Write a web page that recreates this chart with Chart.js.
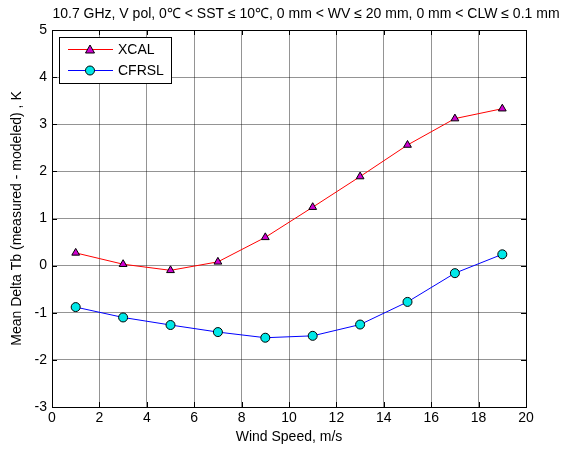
<!DOCTYPE html>
<html>
<head>
<meta charset="utf-8">
<script src="https://cdn.jsdelivr.net/npm/chart.js@4/dist/chart.umd.min.js"></script>
<style>
  html, body { margin: 0; padding: 0; background: #fff; }
  #wrap { width: 570px; height: 451px; }
</style>
</head>
<body>
<div id="wrap"><canvas id="chart" width="570" height="451"></canvas></div>
<script>
// ── DATA ──
const windSpeed = [1, 3, 5, 7, 9, 11, 13, 15, 17, 19];
const xcalVals  = [0.27, 0.03, -0.10, 0.08, 0.60, 1.24, 1.89, 2.56, 3.12, 3.33];
const cfrslVals = [-0.88, -1.10, -1.26, -1.41, -1.53, -1.49, -1.25, -0.77, -0.16, 0.24];
const seriesNames = ['XCAL', 'CFRSL'];
const titleText = '10.7 GHz, V pol, 0\u2103 < SST \u2264 10\u2103, 0 mm < WV \u2264 20 mm, 0 mm < CLW \u2264 0.1 mm';
const xLabel = 'Wind Speed, m/s';
const yLabel = 'Mean Delta Tb (measured - modeled) , K';

const FONT = "'Liberation Sans', Arial, Helvetica, sans-serif";
const GRID = 'rgba(0,0,0,0.42)';

// title drawn above the axes, centred like the MATLAB figure
const titlePlugin = {
    id: 'figTitle',
    afterDraw(chart) {
        const ctx = chart.ctx;
        ctx.save();
        ctx.font = '14px ' + FONT;
        ctx.fillStyle = '#000';
        ctx.textAlign = 'center';
        ctx.textBaseline = 'middle';
        ctx.fillText(titleText, 306, 14);
        ctx.restore();
    }
};

// axes box + inward ticks on all four sides
const boxPlugin = {
    id: 'axesBox',
    afterDatasetsDraw(chart) {
        const { ctx, chartArea: a, scales: { x, y } } = chart;
        ctx.save();
        ctx.strokeStyle = '#000';
        ctx.lineWidth = 1;
        ctx.strokeRect(a.left + 0.5, a.top + 0.5, a.right - a.left, a.bottom - a.top);
        ctx.beginPath();
        x.ticks.forEach(t => {
            const px = Math.round(x.getPixelForValue(t.value)) + 0.5;
            ctx.moveTo(px, a.bottom); ctx.lineTo(px, a.bottom - 5);
            ctx.moveTo(px, a.top); ctx.lineTo(px, a.top + 5);
        });
        y.ticks.forEach(t => {
            const py = Math.round(y.getPixelForValue(t.value)) + 0.5;
            ctx.moveTo(a.left, py); ctx.lineTo(a.left + 5, py);
            ctx.moveTo(a.right, py); ctx.lineTo(a.right - 5, py);
        });
        ctx.stroke();
        ctx.restore();
    },
    afterDraw(chart) {
        // legend box in the upper-left corner
        const ctx = chart.ctx;
        const bx = 59, by = 37, bw = 112, bh = 46;
        ctx.save();
        ctx.fillStyle = '#fff';
        ctx.fillRect(bx, by, bw, bh);
        ctx.strokeStyle = '#000';
        ctx.lineWidth = 1;
        ctx.strokeRect(bx + 0.5, by + 0.5, bw, bh);
        ctx.font = '14px ' + FONT;
        ctx.textBaseline = 'middle';
        chart.data.datasets.forEach((ds, i) => {
            const ly = by + 12.5 + i * 21;
            ctx.strokeStyle = ds.borderColor;
            ctx.beginPath();
            ctx.moveTo(68, ly); ctx.lineTo(113, ly);
            ctx.stroke();
            ctx.fillStyle = ds.pointBackgroundColor;
            ctx.strokeStyle = '#000';
            ctx.beginPath();
            if (ds.pointStyle === 'triangle') {
                ctx.moveTo(90, ly - 4.5); ctx.lineTo(94.5, ly + 3.5); ctx.lineTo(85.5, ly + 3.5); ctx.closePath();
            } else {
                ctx.arc(90, ly, 4.5, 0, Math.PI * 2);
            }
            ctx.fill(); ctx.stroke();
            ctx.fillStyle = '#000';
            ctx.fillText(ds.label, 118, ly + 1);
        });
        ctx.restore();
    }
};

new Chart(document.getElementById('chart').getContext('2d'), {
    type: 'line',
    data: {
        datasets: [
            {
                label: seriesNames[0],
                data: windSpeed.map((w, i) => ({ x: w, y: xcalVals[i] })),
                borderColor: '#ff0000',
                borderWidth: 1,
                pointStyle: 'triangle',
                pointRadius: 4.5,
                pointBackgroundColor: '#d000d0',
                pointBorderColor: '#000',
                pointBorderWidth: 1,
                tension: 0
            },
            {
                label: seriesNames[1],
                data: windSpeed.map((w, i) => ({ x: w, y: cfrslVals[i] })),
                borderColor: '#0000ff',
                borderWidth: 1,
                pointStyle: 'circle',
                pointRadius: 4.5,
                pointBackgroundColor: '#00e8e8',
                pointBorderColor: '#000',
                pointBorderWidth: 1,
                tension: 0
            }
        ]
    },
    options: {
        responsive: false,
        animation: false,
        events: [],
        layout: { padding: { top: 30, right: 44, left: 0, bottom: 0 } },
        plugins: {
            legend: { display: false },
            title: { display: false },
            tooltip: { enabled: false }
        },
        scales: {
            x: {
                type: 'linear',
                min: 0, max: 20,
                ticks: { stepSize: 2, color: '#000', font: { size: 14, family: FONT }, padding: 3 },
                grid: { color: GRID, drawTicks: false },
                border: { color: '#000' },
                title: { display: true, text: xLabel, color: '#000', font: { size: 14, family: FONT }, padding: { top: 0, bottom: 5 } },
                afterFit(s) { s.height = 44; }
            },
            y: {
                type: 'linear',
                min: -3, max: 5,
                ticks: { stepSize: 1, color: '#000', font: { size: 14, family: FONT }, padding: 5 },
                grid: { color: GRID, drawTicks: false },
                border: { color: '#000' },
                title: { display: true, text: yLabel, color: '#000', font: { size: 14, family: FONT }, padding: { top: 9, bottom: 0 } },
                afterFit(s) { s.width = 52; }
            }
        }
    },
    plugins: [titlePlugin, boxPlugin]
});
</script>
</body>
</html>
